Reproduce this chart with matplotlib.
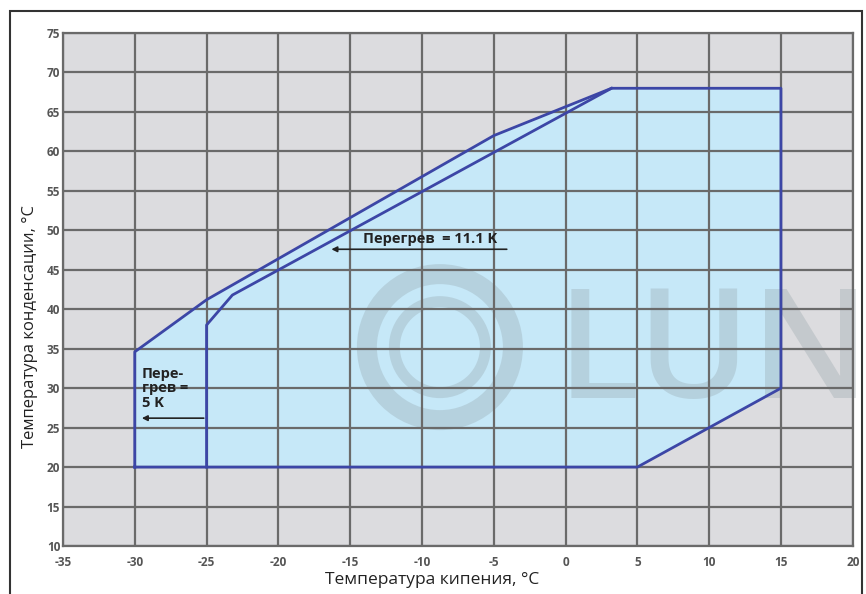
import matplotlib.pyplot as plt
from matplotlib.patches import Polygon, Rectangle, Ellipse

plt.rcParams['font.family'] = ['Open Sans', 'DejaVu Sans']
plt.rcParams['axes.unicode_minus'] = False

# outer envelope of the operating range
outer_t0 = [-30, -30, -25, -5, 3.2, 15, 15, 5, -30]
outer_tc = [20, 34.6, 41.2, 62, 68, 68, 30, 20, 20]

# inner limit (superheat 11.1 K)
inner_t0 = [-25, -25, -23.2, 3.2]
inner_tc = [20, 38, 41.8, 68]

x_ticks = list(range(-35, 21, 5))
y_ticks = list(range(10, 76, 5))

line_col = '#3c46a6'
fill_col = '#c6e8f8'
grid_col = '#6a6a6a'
wm_col = '#8f9ea4'

fig = plt.figure(figsize=(8.66, 5.94), dpi=100)
ax = fig.add_axes([0.0727, 0.0808, 0.912, 0.8636])
ax.set_facecolor('#dcdcdf')

# frame around figure
fig.patches.append(Rectangle((0.011, -0.05), 0.984, 1.031, transform=fig.transFigure,
                             fill=False, edgecolor='#333333', linewidth=1.5))

ax.add_patch(Polygon(list(zip(outer_t0, outer_tc)), closed=True,
                     facecolor=fill_col, edgecolor='none', zorder=1))

# watermark (copyright ring + LUN)
ax.add_patch(Ellipse((-8.75, 35.2), 10.17, 18.5, fill=False, edgecolor=wm_col,
                     alpha=0.3, linewidth=14.4, zorder=1.5))
ax.add_patch(Ellipse((-8.75, 35.2), 6.34, 11.53, fill=False, edgecolor=wm_col,
                     alpha=0.3, linewidth=7.9, zorder=1.5))
ax.text(0.625, 0.289, 'LUN', transform=ax.transAxes, fontsize=110, fontweight='semibold',
        color=wm_col, alpha=0.3, va='baseline', ha='left', zorder=1.5, clip_on=False)

ax.set_xlim(-35, 20)
ax.set_ylim(10, 75)
ax.set_xticks(x_ticks)
ax.set_yticks(y_ticks)
ax.grid(True, color=grid_col, linewidth=1.6, zorder=2)
ax.set_axisbelow(False)
for s in ax.spines.values():
    s.set_color(grid_col)
    s.set_linewidth(1.6)
ax.tick_params(length=0, labelsize=8.5, labelcolor='#555555')
ax.tick_params(axis='x', pad=7)
ax.tick_params(axis='y', pad=2)
for lbl in ax.get_xticklabels() + ax.get_yticklabels():
    lbl.set_fontweight('bold')

ax.plot(outer_t0, outer_tc, color=line_col, linewidth=2.0, zorder=3)
ax.plot(inner_t0, inner_tc, color=line_col, linewidth=2.0, zorder=3)

# annotations
ax.annotate('', xy=(-16.5, 47.6), xytext=(-3.9, 47.6),
            arrowprops=dict(arrowstyle='-|>', color='#222222', lw=1.2,
                            mutation_scale=8), zorder=4)
ax.text(-14.1, 48.9, 'Перегрев  = 11.1 K', fontsize=10.5, fontweight='bold',
        color='#222222', ha='left', va='center', zorder=4)

ax.annotate('', xy=(-29.7, 26.2), xytext=(-25, 26.2),
            arrowprops=dict(arrowstyle='-|>', color='#222222', lw=1.2,
                            mutation_scale=8), zorder=4)
ax.text(-29.5, 30.0, 'Пере-\nгрев =\n5 K', fontsize=10.5, fontweight='bold',
        color='#222222', ha='left', va='center', linespacing=1.05, zorder=4)

ax.set_xlabel('Температура кипения, °C', fontsize=12.5, color='#222222')
ax.set_ylabel('Температура конденсации, °C', fontsize=12, color='#222222')
ax.xaxis.set_label_coords(0.467, -0.066)
ax.yaxis.set_label_coords(-0.042, 0.427)
ax.xaxis.label.set_va('center')
ax.yaxis.label.set_va('center')

fig.savefig('out.png', dpi=100)
